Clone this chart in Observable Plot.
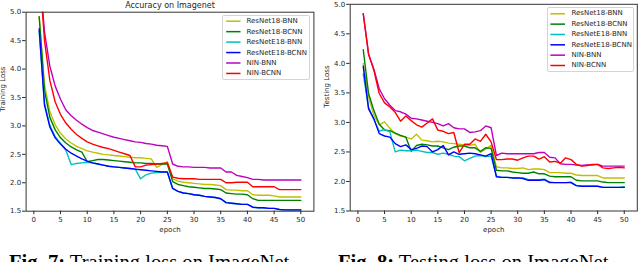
<!DOCTYPE html>
<html>
<head>
<meta charset="utf-8">
<script src="https://cdn.jsdelivr.net/npm/d3@7"></script>
<script src="https://cdn.jsdelivr.net/npm/@observablehq/plot@0.6"></script>
<style>
  html, body { margin: 0; padding: 0; background: #fff; }
  #root { position: relative; width: 640px; height: 262px; overflow: hidden; font-family: "DejaVu Sans", sans-serif; }
  .panel { position: absolute; top: 0; }
  .legend { position: absolute; box-sizing: border-box; border: 1px solid #d4d4d4; border-radius: 2px; background: rgba(255,255,255,0.85); }
  .legend svg { position: absolute; left: 0; top: 0; overflow: visible; }
  .legend .lab { position: absolute; font: 7px "DejaVu Sans"; color: #262626; white-space: nowrap; line-height: 10px; }
  .caption { position: absolute; font-family: "Liberation Serif", "Times New Roman", serif; font-size: 20.6px; line-height: 1; white-space: nowrap; color: #000; }
</style>
</head>
<body>
<div id="root"></div>
<script>
const epochs = d3.range(1, 51);
const seriesNames = ["ResNet18-BNN", "ResNet18-BCNN", "ResNetE18-BNN", "ResNetE18-BCNN", "NIN-BNN", "NIN-BCNN"];
const seriesColors = ["#bfbf00", "#008000", "#00bfbf", "#0000ff", "#bf00bf", "#ff0000"];
const xTicks = [0, 5, 10, 15, 20, 25, 30, 35, 40, 45, 50];
const yTicks = [1.5, 2.0, 2.5, 3.0, 3.5, 4.0, 4.5, 5.0];

// Training loss (Fig. 7)
const trainResNet18BNN = [4.92, 3.72, 3.25, 3.02, 2.87, 2.77, 2.70, 2.64, 2.60, 2.56, 2.54, 2.52, 2.50, 2.49, 2.48, 2.47, 2.46, 2.45, 2.44, 2.44, 2.43, 2.42, 2.27, 2.32, 2.37, 2.07, 2.03, 2.01, 2.00, 1.99, 1.98, 1.97, 1.97, 1.96, 1.95, 1.88, 1.87, 1.87, 1.86, 1.86, 1.79, 1.78, 1.78, 1.78, 1.77, 1.75, 1.75, 1.75, 1.75, 1.75];
const trainResNet18BCNN = [4.92, 3.62, 3.15, 2.93, 2.79, 2.70, 2.63, 2.58, 2.54, 2.37, 2.39, 2.41, 2.41, 2.40, 2.39, 2.38, 2.37, 2.36, 2.35, 2.35, 2.34, 2.34, 2.33, 2.33, 2.33, 2.02, 1.97, 1.95, 1.93, 1.92, 1.91, 1.90, 1.90, 1.89, 1.88, 1.82, 1.81, 1.80, 1.80, 1.79, 1.72, 1.69, 1.69, 1.69, 1.69, 1.69, 1.69, 1.69, 1.69, 1.69];
const trainResNetE18BNN = [4.66, 3.40, 3.01, 2.81, 2.69, 2.57, 2.32, 2.34, 2.35, 2.36, 2.35, 2.33, 2.31, 2.29, 2.28, 2.27, 2.26, 2.25, 2.24, 2.07, 2.14, 2.17, 2.18, 2.19, 2.19, 1.90, 1.85, 1.82, 1.81, 1.79, 1.78, 1.76, 1.75, 1.74, 1.72, 1.65, 1.64, 1.63, 1.62, 1.62, 1.57, 1.56, 1.56, 1.55, 1.55, 1.53, 1.52, 1.52, 1.52, 1.52];
const trainResNetE18BCNN = [4.71, 3.36, 2.98, 2.79, 2.68, 2.59, 2.52, 2.47, 2.42, 2.38, 2.35, 2.33, 2.31, 2.29, 2.28, 2.27, 2.26, 2.25, 2.24, 2.23, 2.22, 2.21, 2.20, 2.19, 2.19, 1.90, 1.85, 1.82, 1.81, 1.79, 1.78, 1.76, 1.75, 1.74, 1.72, 1.65, 1.64, 1.63, 1.62, 1.62, 1.57, 1.56, 1.56, 1.55, 1.55, 1.53, 1.52, 1.52, 1.52, 1.52];
const trainNINBNN = [5.80, 4.65, 4.05, 3.70, 3.47, 3.28, 3.18, 3.10, 3.03, 2.97, 2.92, 2.89, 2.86, 2.83, 2.80, 2.78, 2.76, 2.74, 2.72, 2.71, 2.69, 2.68, 2.66, 2.65, 2.64, 2.33, 2.29, 2.28, 2.28, 2.27, 2.27, 2.27, 2.26, 2.26, 2.26, 2.19, 2.19, 2.13, 2.11, 2.09, 2.06, 2.06, 2.05, 2.05, 2.05, 2.05, 2.05, 2.05, 2.05, 2.05];
const trainNINBCNN = [5.80, 4.50, 3.80, 3.42, 3.20, 3.05, 2.94, 2.85, 2.78, 2.72, 2.68, 2.65, 2.62, 2.60, 2.57, 2.54, 2.51, 2.48, 2.28, 2.28, 2.31, 2.32, 2.33, 2.34, 2.35, 2.10, 2.08, 2.07, 2.07, 2.07, 2.06, 2.06, 2.06, 2.06, 2.06, 2.00, 2.00, 2.01, 2.01, 2.01, 1.93, 1.93, 1.93, 1.93, 1.93, 1.88, 1.88, 1.88, 1.88, 1.88];

// Testing loss (Fig. 8)
const testResNet18BNN = [4.00, 3.43, 3.12, 2.96, 3.01, 2.90, 2.81, 2.77, 2.75, 2.72, 2.80, 2.70, 2.69, 2.67, 2.68, 2.67, 2.65, 2.64, 2.63, 2.62, 2.61, 2.63, 2.49, 2.55, 2.61, 2.25, 2.23, 2.23, 2.22, 2.22, 2.23, 2.20, 2.21, 2.21, 2.20, 2.15, 2.15, 2.15, 2.14, 2.14, 2.11, 2.10, 2.10, 2.10, 2.10, 2.06, 2.06, 2.06, 2.06, 2.06];
const testResNet18BCNN = [4.23, 3.49, 3.20, 2.97, 2.87, 2.86, 2.82, 2.78, 2.75, 2.51, 2.61, 2.63, 2.62, 2.60, 2.60, 2.57, 2.54, 2.58, 2.60, 2.60, 2.57, 2.57, 2.51, 2.57, 2.56, 2.19, 2.18, 2.18, 2.16, 2.15, 2.14, 2.14, 2.16, 2.13, 2.13, 2.09, 2.08, 2.08, 2.08, 2.08, 2.02, 2.01, 2.01, 2.01, 2.01, 1.99, 1.98, 1.98, 1.98, 1.98];
const testResNetE18BNN = [3.82, 3.25, 3.05, 2.85, 2.88, 2.84, 2.50, 2.53, 2.52, 2.52, 2.53, 2.51, 2.49, 2.49, 2.46, 2.48, 2.46, 2.43, 2.42, 2.35, 2.39, 2.43, 2.44, 2.42, 2.43, 2.09, 2.07, 2.07, 2.06, 2.06, 2.06, 2.03, 2.03, 2.03, 2.04, 1.99, 1.98, 1.98, 1.98, 1.99, 1.93, 1.92, 1.92, 1.92, 1.92, 1.90, 1.90, 1.90, 1.90, 1.91];
const testResNetE18BCNN = [3.95, 3.23, 3.06, 2.81, 2.77, 2.75, 2.64, 2.59, 2.62, 2.54, 2.56, 2.60, 2.59, 2.50, 2.54, 2.61, 2.45, 2.50, 2.46, 2.47, 2.48, 2.47, 2.45, 2.43, 2.47, 2.08, 2.07, 2.07, 2.06, 2.06, 2.05, 2.02, 2.02, 2.02, 2.03, 1.98, 1.98, 1.98, 1.98, 1.98, 1.93, 1.92, 1.92, 1.92, 1.92, 1.90, 1.90, 1.90, 1.90, 1.90];
const testNINBNN = [4.84, 4.15, 3.90, 3.57, 3.40, 3.29, 3.20, 3.18, 3.14, 3.07, 3.06, 3.04, 3.02, 3.00, 2.98, 2.94, 2.98, 2.91, 2.89, 2.89, 2.83, 2.84, 2.86, 2.94, 2.91, 2.44, 2.48, 2.47, 2.47, 2.47, 2.47, 2.47, 2.47, 2.49, 2.49, 2.41, 2.40, 2.30, 2.29, 2.29, 2.28, 2.27, 2.28, 2.28, 2.29, 2.26, 2.26, 2.26, 2.26, 2.26];
const testNINBCNN = [4.84, 4.16, 3.88, 3.49, 3.33, 3.26, 3.17, 3.02, 3.11, 3.03, 2.96, 2.92, 2.99, 3.06, 2.87, 2.85, 2.81, 2.83, 2.49, 2.63, 2.63, 2.72, 2.68, 2.80, 2.67, 2.37, 2.37, 2.38, 2.38, 2.36, 2.40, 2.43, 2.43, 2.38, 2.42, 2.33, 2.34, 2.31, 2.40, 2.37, 2.29, 2.26, 2.27, 2.29, 2.29, 2.23, 2.22, 2.23, 2.24, 2.23];

const trainSeries = [trainResNet18BNN, trainResNet18BCNN, trainResNetE18BNN, trainResNetE18BCNN, trainNINBNN, trainNINBCNN];
const testSeries = [testResNet18BNN, testResNet18BCNN, testResNetE18BNN, testResNetE18BCNN, testNINBNN, testNINBCNN];

const root = document.getElementById("root");

function makeChart(series, opts) {
  const marks = [];
  series.forEach((vals, i) => {
    const data = epochs.map((e, j) => ({epoch: e, loss: vals[j]}));
    marks.push(Plot.line(data, {x: "epoch", y: "loss", stroke: seriesColors[i], strokeWidth: 1.4, clip: true}));
  });
  marks.push(
    Plot.axisX({ticks: xTicks, tickSize: 3.5, tickPadding: 2.2, fontSize: 7, label: null}),
    Plot.axisY({ticks: yTicks, tickFormat: d3.format(".1f"), tickSize: 3.5, tickPadding: 1.5, fontSize: 7, label: null}),
    Plot.text(["epoch"], {text: d => d, frameAnchor: "bottom", dy: 18.3, fontSize: 7, lineAnchor: "middle"}),
    Plot.text([opts.yLabel], {text: d => d, frameAnchor: "left", dx: opts.yLabelDx, rotate: -90, fontSize: 7, lineAnchor: "middle"}),
    Plot.frame({stroke: "#333", strokeWidth: 1})
  );
  if (opts.title) {
    marks.push(Plot.text([opts.title], {text: d => d, frameAnchor: "top", dy: -7, fontSize: 8, lineAnchor: "middle"}));
  }
  return Plot.plot({
    width: 320,
    height: 240,
    marginLeft: opts.ml,
    marginRight: opts.mr,
    marginTop: opts.mt,
    marginBottom: 240 - opts.bottom,
    x: {domain: [-1.45, 52.45]},
    y: {domain: [1.5, 5.0]},
    style: {fontFamily: "DejaVu Sans", fontSize: "7px", color: "#262626", background: "transparent", overflow: "visible"},
    marks
  });
}

function addLegend(left, top, width, height, rowTop, rowStep, swLeft, swLen, textLeft) {
  const box = document.createElement("div");
  box.className = "legend";
  Object.assign(box.style, {left: left + "px", top: top + "px", width: width + "px", height: height + "px"});
  const ns = "http://www.w3.org/2000/svg";
  const svg = document.createElementNS(ns, "svg");
  svg.setAttribute("width", width);
  svg.setAttribute("height", height);
  seriesNames.forEach((name, i) => {
    const y = rowTop + i * rowStep;
    const ln = document.createElementNS(ns, "line");
    ln.setAttribute("x1", swLeft);
    ln.setAttribute("x2", swLeft + swLen);
    ln.setAttribute("y1", y);
    ln.setAttribute("y2", y);
    ln.setAttribute("stroke", seriesColors[i]);
    ln.setAttribute("stroke-width", 1.5);
    svg.appendChild(ln);
    const lab = document.createElement("div");
    lab.className = "lab";
    lab.textContent = name;
    Object.assign(lab.style, {left: textLeft + "px", top: (y - 5) + "px"});
    box.appendChild(lab);
  });
  box.appendChild(svg);
  root.appendChild(box);
}

const left = makeChart(trainSeries, {ml: 25.6, mr: 6.6, mt: 11.7, bottom: 210.7, yLabel: "Training Loss", yLabelDx: -23, title: "Accuracy on Imagenet"});
const leftWrap = document.createElement("div");
leftWrap.className = "panel";
leftWrap.style.left = "0px";
leftWrap.appendChild(left);
root.appendChild(leftWrap);

const right = makeChart(testSeries, {ml: 29.7, mr: 3.2, mt: 3.8, bottom: 210.5, yLabel: "Testing Loss", yLabelDx: -23.7});
const rightWrap = document.createElement("div");
rightWrap.className = "panel";
rightWrap.style.left = "320px";
rightWrap.appendChild(right);
root.appendChild(rightWrap);

addLegend(222.3, 15, 87.7, 65, 5.2, 10.45, 3.2, 14.3, 23.2);
addLegend(546.7, 6.7, 87.5, 65, 5.8, 10.34, 2.4, 14.6, 23.8);

const cap1 = document.createElement("div");
cap1.className = "caption";
cap1.style.left = "9px";
cap1.style.top = "251.5px";
cap1.innerHTML = "<b>Fig. 7:</b> Training loss on ImageNet";
root.appendChild(cap1);

const cap2 = document.createElement("div");
cap2.className = "caption";
cap2.style.left = "338px";
cap2.style.top = "251.5px";
cap2.innerHTML = "<b>Fig. 8:</b> Testing loss on ImageNet";
root.appendChild(cap2);
</script>
</body>
</html>
